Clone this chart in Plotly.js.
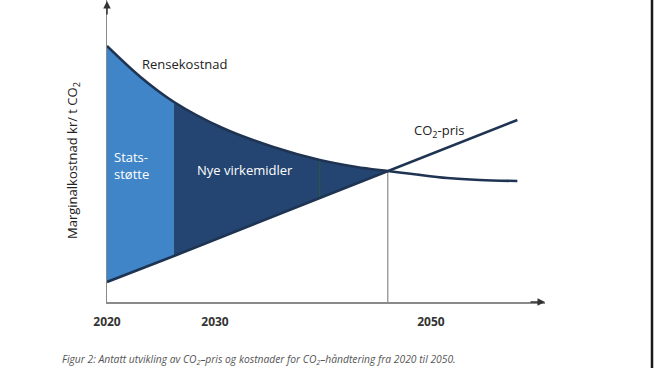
<!DOCTYPE html>
<html>
<head>
<meta charset="utf-8">
<script src="https://cdn.plot.ly/plotly-3.0.1.min.js"></script>
<style>
  html, body { margin: 0; padding: 0; background: #ffffff; }
  #chart { width: 654px; height: 368px; }
</style>
</head>
<body>
<div id="chart"></div>
<script>
// Rensekostnad (abatement cost) curve
const curveYears = [2020, 2023.1, 2026.2, 2030.7, 2035.4, 2039.7, 2043.1, 2046, 2048.3, 2051.5, 2054.5, 2058];
const curveValues = [256, 225, 200, 174, 155, 142, 135, 131, 128, 124, 122, 121];
// CO2-pris line
const priceYears = [2020, 2026.2, 2039.7, 2046, 2058];
const priceValues = [20, 46, 104, 131, 182];
// region boundaries
const supportEnd = 2026.2;
const greenYear = 2039.7;
const crossYear = 2046;
// tick labels
const tickYears = [2020, 2030, 2050];
const tickLabels = ['2020', '2030', '2050'];

function seg(xs, ys, a, b) {
  const x = [], y = [];
  xs.forEach((v, i) => { if (v >= a - 1e-9 && v <= b + 1e-9) { x.push(v); y.push(ys[i]); } });
  return {x, y};
}
function valAt(xs, ys, t) { return ys[xs.indexOf(t)]; }

const lightBlue = '#3f85c7';
const navy = '#244571';
const lineCol = '#1f3452';

const c1 = seg(curveYears, curveValues, 2020, supportEnd);
const p1 = seg(priceYears, priceValues, 2020, supportEnd);
const c2 = seg(curveYears, curveValues, supportEnd, crossYear);
const p2 = seg(priceYears, priceValues, supportEnd, crossYear);

const traces = [
  {x: p1.x, y: p1.y, mode: 'lines', line: {width: 0}, hoverinfo: 'skip'},
  {x: c1.x, y: c1.y, mode: 'lines', line: {width: 0, shape: 'spline'}, fill: 'tonexty', fillcolor: lightBlue, hoverinfo: 'skip'},
  {x: p2.x, y: p2.y, mode: 'lines', line: {width: 0}, hoverinfo: 'skip'},
  {x: c2.x, y: c2.y, mode: 'lines', line: {width: 0, shape: 'spline'}, fill: 'tonexty', fillcolor: navy, hoverinfo: 'skip'},
  {x: [greenYear, greenYear], y: [valAt(priceYears, priceValues, greenYear), valAt(curveYears, curveValues, greenYear)],
   mode: 'lines', line: {width: 1, color: '#2f5a3a'}, hoverinfo: 'skip'},
  {x: [crossYear, crossYear], y: [0, valAt(curveYears, curveValues, crossYear)],
   mode: 'lines', line: {width: 1.2, color: '#8a8a8a'}, hoverinfo: 'skip'},
  {x: curveYears, y: curveValues, mode: 'lines', line: {width: 2.6, color: lineCol, shape: 'spline'}, hoverinfo: 'skip'},
  {x: priceYears, y: priceValues, mode: 'lines', line: {width: 2.6, color: lineCol}, hoverinfo: 'skip'}
];

const f = 'Open Sans, sans-serif';
const layout = {
  width: 654, height: 368,
  margin: {l: 107, r: 109, t: 0, b: 66},
  paper_bgcolor: '#ffffff', plot_bgcolor: '#ffffff',
  showlegend: false,
  xaxis: {
    range: [2020, 2060.56], showgrid: false, zeroline: false,
    showline: true, linecolor: '#8a8a8a', linewidth: 1.5,
    ticks: '', tickvals: tickYears, ticktext: tickLabels,
    tickfont: {family: f, size: 12, color: '#333333', weight: 'bold'},
    ticklabelstandoff: 8, fixedrange: true
  },
  yaxis: {
    range: [0, 302], showgrid: false, zeroline: false,
    showline: true, linecolor: '#8a8a8a', linewidth: 1.5,
    ticks: '', showticklabels: false, fixedrange: true
  },
  annotations: [
    {xref: 'paper', yref: 'paper', x: 1, y: 0, ax: -16, ay: 0, text: '', showarrow: true, arrowhead: 2, arrowsize: 1, arrowwidth: 1.5, arrowcolor: '#333333'},
    {xref: 'paper', yref: 'paper', x: 0, y: 1, ax: 0, ay: 16, text: '', showarrow: true, arrowhead: 2, arrowsize: 1, arrowwidth: 1.5, arrowcolor: '#333333'},
    {xref: 'paper', yref: 'paper', x: -0.0776, y: 0.467, xanchor: 'center', yanchor: 'middle', textangle: -90, showarrow: false,
     text: 'Marginalkostnad kr/ t CO<sub>2</sub>', font: {family: f, size: 13, color: '#222222'}},
    {x: 2023.06, y: 238, xanchor: 'left', yanchor: 'middle', showarrow: false, text: 'Rensekostnad', font: {family: f, size: 13, color: '#222222'}},
    {x: 2020.46, y: 137, xanchor: 'left', yanchor: 'middle', align: 'left', showarrow: false, text: 'Stats-<br>støtte', font: {family: f, size: 13, color: '#ffffff'}},
    {x: 2032.78, y: 132, xanchor: 'center', yanchor: 'middle', showarrow: false, text: 'Nye virkemidler', font: {family: f, size: 13, color: '#ffffff'}},
    {x: 2050.74, y: 171, xanchor: 'center', yanchor: 'middle', showarrow: false, text: 'CO<sub>2</sub>-pris', font: {family: f, size: 13, color: '#222222'}},
    {xref: 'paper', yref: 'paper', x: -0.1073, y: -0.192, xanchor: 'left', yanchor: 'middle', showarrow: false,
     text: '<i>Figur 2: Antatt utvikling av CO<sub>2</sub>–pris og kostnader for CO<sub>2</sub>–håndtering fra 2020 til 2050.</i>',
     font: {family: f, size: 10.3, color: '#555555'}}
  ],
  shapes: [
    {type: 'line', xref: 'paper', yref: 'paper', x0: 1.2443, x1: 1.2443, y0: -0.23, y1: 1.0, line: {color: '#1a1a1a', width: 2.5}}
  ]
};

Plotly.newPlot('chart', traces, layout, {displayModeBar: false, staticPlot: true});
</script>
</body>
</html>
